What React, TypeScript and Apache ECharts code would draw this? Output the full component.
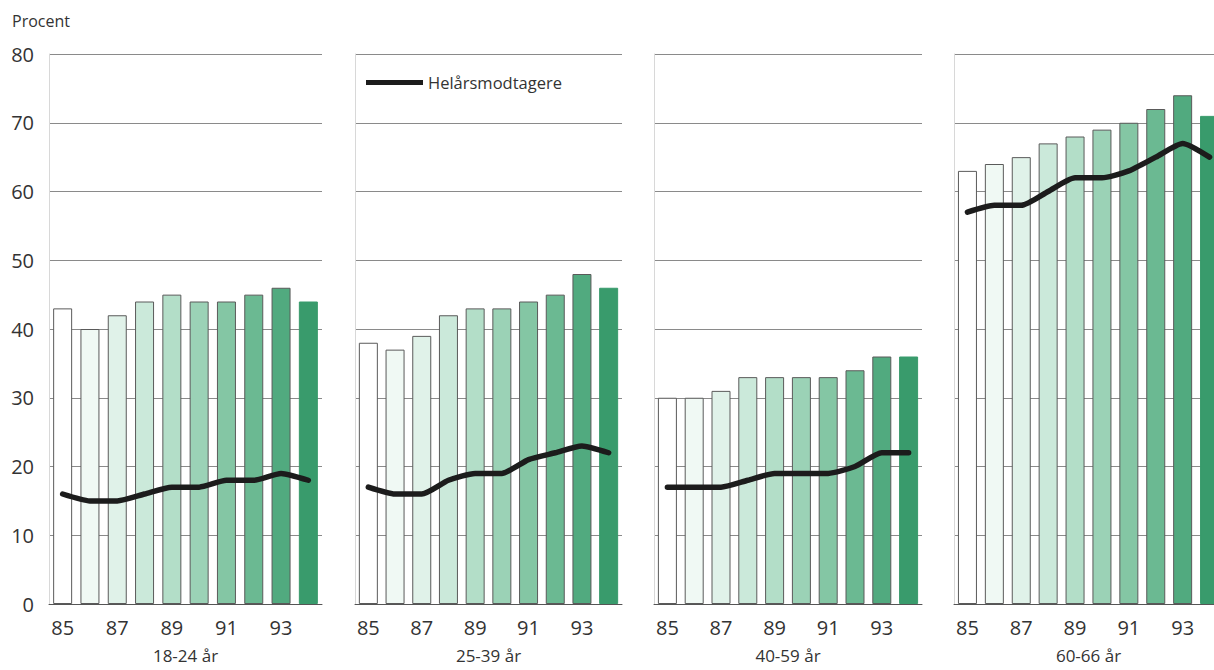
import React, { useEffect, useRef } from "react";
import * as echarts from "echarts";

const years = ["85", "86", "87", "88", "89", "90", "91", "92", "93", "94"];
const panelTitles = ["18-24 år", "25-39 år", "40-59 år", "60-66 år"];

const allBars1 = [43, 40, 42, 44, 45, 44, 44, 45, 46, 44];
const allBars2 = [38, 37, 39, 42, 43, 43, 44, 45, 48, 46];
const allBars3 = [30, 30, 31, 33, 33, 33, 33, 34, 36, 36];
const allBars4 = [63, 64, 65, 67, 68, 69, 70, 72, 74, 71];

const fullYear1 = [16, 15, 15, 16, 17, 17, 18, 18, 19, 18];
const fullYear2 = [17, 16, 16, 18, 19, 19, 21, 22, 23, 22];
const fullYear3 = [17, 17, 17, 18, 19, 19, 19, 20, 22, 22];
const fullYear4 = [57, 58, 58, 60, 62, 62, 63, 65, 67, 65];

const yTicks = { min: 0, max: 80, interval: 10 };
const lineName = "Helårsmodtagere";

const barColors = [
  "#ffffff",
  "#f0f9f4",
  "#e0f2e9",
  "#cbe9da",
  "#b3dec8",
  "#9bd2b6",
  "#84c6a4",
  "#6bb992",
  "#51aa7f",
  "#399b6c",
];

const FONT = "'Open Sans', 'DejaVu Sans', sans-serif";
const TEXT = "#333";

export default function App() {
  const ref = useRef<HTMLDivElement>(null);

  useEffect(() => {
    if (!ref.current) return;
    const chart = echarts.init(ref.current, undefined, { renderer: "svg" });

    const barsAll = [allBars1, allBars2, allBars3, allBars4];
    const linesAll = [fullYear1, fullYear2, fullYear3, fullYear4];
    const lefts = [49, 355, 654, 954];
    const widths = [273, 267, 268, 269];

    const grid = lefts.map((l, i) => ({
      left: l,
      top: 54,
      width: widths[i],
      height: 550,
      containLabel: false,
      outerBoundsMode: "none",
    }));

    const xAxis = panelTitles.map((t, i) => ({
      type: "category",
      gridIndex: i,
      data: years,
      name: t,
      nameLocation: "middle",
      nameGap: 43,
      nameTextStyle: { fontSize: 17, lineHeight: 17, color: TEXT, fontFamily: FONT },
      axisTick: { show: false },
      axisLine: { show: true, lineStyle: { color: "#555", width: 1 } },
      axisLabel: {
        interval: 1,
        fontSize: 20,
        color: TEXT,
        fontFamily: FONT,
        margin: 13,
      },
      splitLine: { show: false },
    }));

    const yAxis = panelTitles.map((_, i) => ({
      type: "value",
      gridIndex: i,
      min: yTicks.min,
      max: yTicks.max,
      interval: yTicks.interval,
      axisLine: { show: true, lineStyle: { color: "#d8d8d8", width: 1 } },
      axisTick: { show: false },
      axisLabel: {
        show: i === 0,
        fontSize: 20,
        color: TEXT,
        fontFamily: FONT,
        margin: 15,
        padding: [0, 0, 6, 0],
      },
      splitLine: { show: true, lineStyle: { color: "#8a8a8a", width: 1 } },
    }));

    const series: any[] = [];
    barsAll.forEach((vals, i) => {
      series.push({
        type: "bar",
        xAxisIndex: i,
        yAxisIndex: i,
        barWidth: 19,
        data: vals.map((v, j) => ({
          value: v,
          itemStyle: {
            color: barColors[j],
            borderColor: j < 9 ? "#5a5a5a" : barColors[j],
            borderWidth: 1,
          },
        })),
        z: 2,
      });
      series.push({
        type: "line",
        name: lineName,
        xAxisIndex: i,
        yAxisIndex: i,
        data: linesAll[i],
        symbol: "none",
        smooth: 0.2,
        lineStyle: { color: "#1c1c1c", width: 5.5, cap: "round", join: "round" },
        itemStyle: { color: "#1c1c1c" },
        z: 5,
      });
    });

    chart.setOption({
      animation: false,
      grid,
      xAxis,
      yAxis,
      series,
      legend: {
        data: [{ name: lineName, icon: "rect" }],
        left: 364,
        top: 72,
        itemWidth: 57,
        itemHeight: 5,
        itemGap: 6,
        textStyle: { fontSize: 16.5, color: TEXT, fontFamily: FONT },
        backgroundColor: "#fff",
        padding: [2, 4, 2, 2],
        selectedMode: false,
      },
      graphic: [
        {
          type: "text",
          left: 12,
          top: 13,
          style: { text: "Procent", fontSize: 16, fill: TEXT, fontFamily: FONT },
        },
      ],
    });

    return () => chart.dispose();
  }, []);

  return (
    <div
      style={{
        position: "absolute",
        left: 0,
        top: 0,
        width: 1214,
        height: 670,
        overflow: "hidden",
        background: "#fff",
      }}
    >
      <div ref={ref} style={{ width: 1240, height: 670 }} />
    </div>
  );
}
